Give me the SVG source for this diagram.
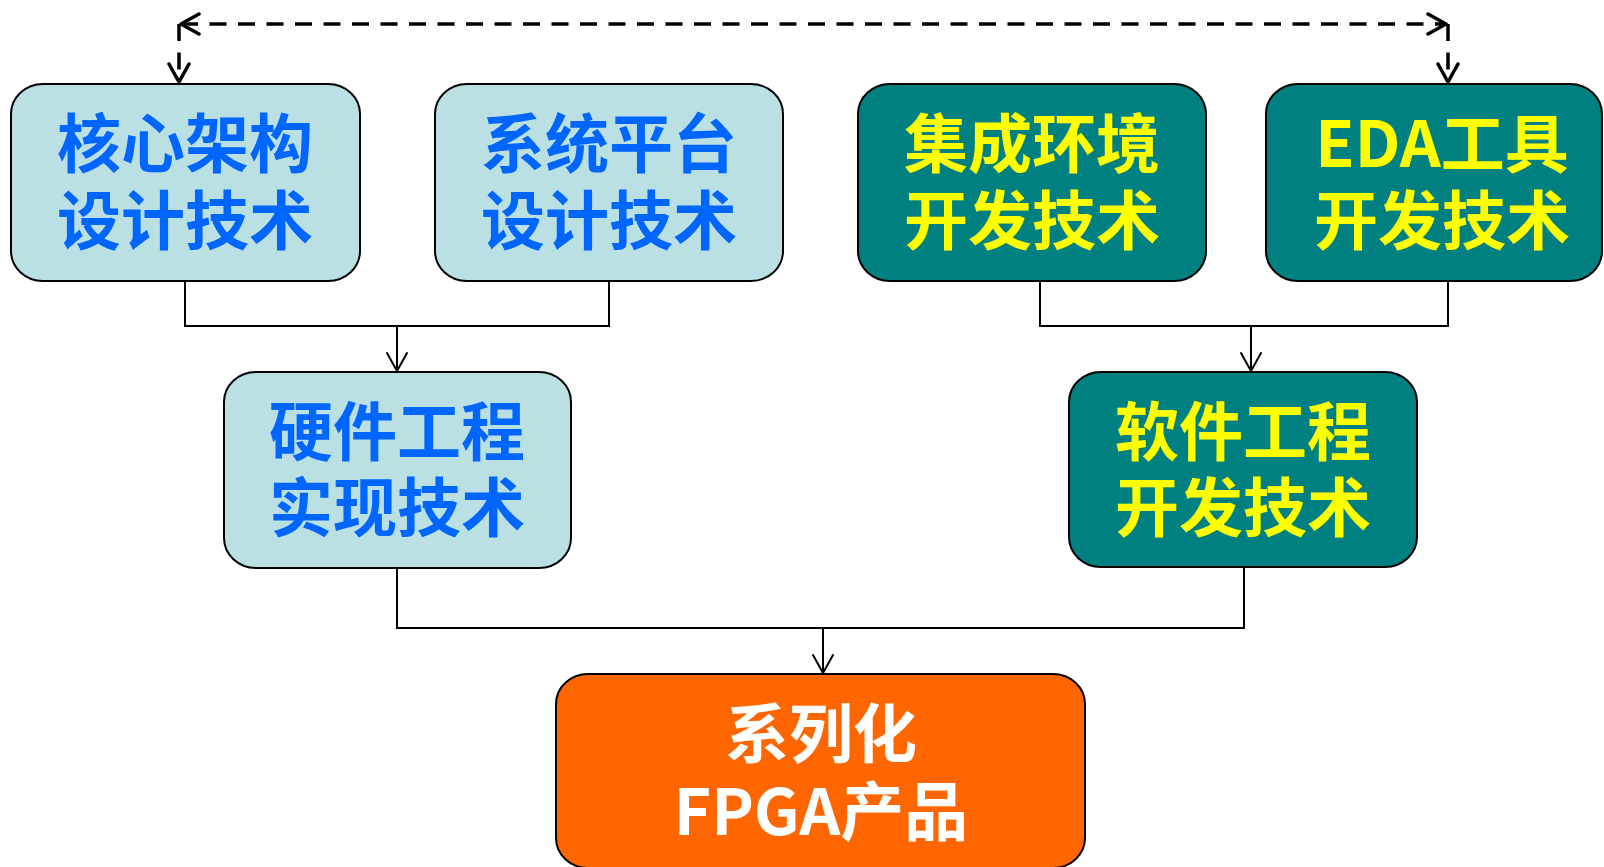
<svg xmlns="http://www.w3.org/2000/svg" width="1604" height="867" viewBox="0 0 1604 867">
  <style>
    .box { stroke: #000; stroke-width: 2; }
    .light { fill: #BBE0E3; }
    .teal { fill: #008080; }
    .orange { fill: #FF6600; }
    .t { font-family: "Noto Sans CJK SC", "Microsoft YaHei", sans-serif; font-weight: bold; font-size: 64px; text-anchor: middle; dominant-baseline: central; }
    .blue { fill: #0066FF; }
    .yellow { fill: #FFFF00; }
    .white { fill: #FFFFFF; }
    .conn { fill: none; stroke: #000; stroke-width: 2; }
    .dash { fill: none; stroke: #000; stroke-width: 3.5; stroke-dasharray: 17 11.5; }
  </style>
  <defs>
    <marker id="arr" viewBox="0 0 22 22" refX="20" refY="11" markerWidth="22" markerHeight="22" markerUnits="userSpaceOnUse" orient="auto">
      <path d="M2,1 L20,11 L2,21" fill="none" stroke="#000" stroke-width="2" stroke-linejoin="round" stroke-linecap="round"/>
    </marker>
    <marker id="darr" viewBox="0 0 24 24" refX="21" refY="12" markerWidth="24" markerHeight="24" markerUnits="userSpaceOnUse" orient="auto-start-reverse">
      <path d="M3,2 L21,12 L3,22" fill="none" stroke="#000" stroke-width="3.5" stroke-dasharray="none" stroke-linejoin="round" stroke-linecap="round"/>
    </marker>
  </defs>

  <g id="connectors">
    <path class="conn" d="M185,281 V326 H609 V281"/>
    <path class="conn" d="M397,326 V371" marker-end="url(#arr)"/>
    <path class="conn" d="M1040,281 V326 H1448 V281"/>
    <path class="conn" d="M1251,326 V371" marker-end="url(#arr)"/>
    <path class="conn" d="M397,568 V628 H1244 V567"/>
    <path class="conn" d="M823,628 V673" marker-end="url(#arr)"/>
    <path class="dash" d="M181,24 H1446" marker-start="url(#darr)" marker-end="url(#darr)"/>
    <path class="dash" d="M179,24 V82" marker-end="url(#darr)"/>
    <path class="dash" d="M1448,24 V82" marker-end="url(#darr)"/>
  </g>

  <g id="node-core">
    <rect class="box light" x="11" y="84" width="349" height="197" rx="32" ry="30"/>
    <text class="t blue"><tspan x="185" y="139">核心架构</tspan><tspan x="185" y="216">设计技术</tspan></text>
  </g>
  <g id="node-platform">
    <rect class="box light" x="435" y="84" width="348" height="197" rx="32" ry="30"/>
    <text class="t blue"><tspan x="609" y="139">系统平台</tspan><tspan x="609" y="216">设计技术</tspan></text>
  </g>
  <g id="node-ide">
    <rect class="box teal" x="858" y="84" width="348" height="197" rx="32" ry="30"/>
    <text class="t yellow"><tspan x="1032" y="139">集成环境</tspan><tspan x="1032" y="216">开发技术</tspan></text>
  </g>
  <g id="node-eda">
    <rect class="box teal" x="1266" y="84" width="336" height="197" rx="32" ry="30"/>
    <text class="t yellow"><tspan x="1442" y="139">EDA工具</tspan><tspan x="1442" y="216">开发技术</tspan></text>
  </g>
  <g id="node-hw">
    <rect class="box light" x="224" y="372" width="347" height="196" rx="32" ry="30"/>
    <text class="t blue"><tspan x="397" y="427">硬件工程</tspan><tspan x="397" y="503">实现技术</tspan></text>
  </g>
  <g id="node-sw">
    <rect class="box teal" x="1069" y="372" width="348" height="195" rx="32" ry="30"/>
    <text class="t yellow"><tspan x="1243" y="427">软件工程</tspan><tspan x="1243" y="503">开发技术</tspan></text>
  </g>
  <g id="node-product">
    <rect class="box orange" x="556" y="674" width="529" height="194" rx="32" ry="30"/>
    <text class="t white"><tspan x="821" y="729">系列化</tspan><tspan x="821" y="807">FPGA产品</tspan></text>
  </g>
</svg>
